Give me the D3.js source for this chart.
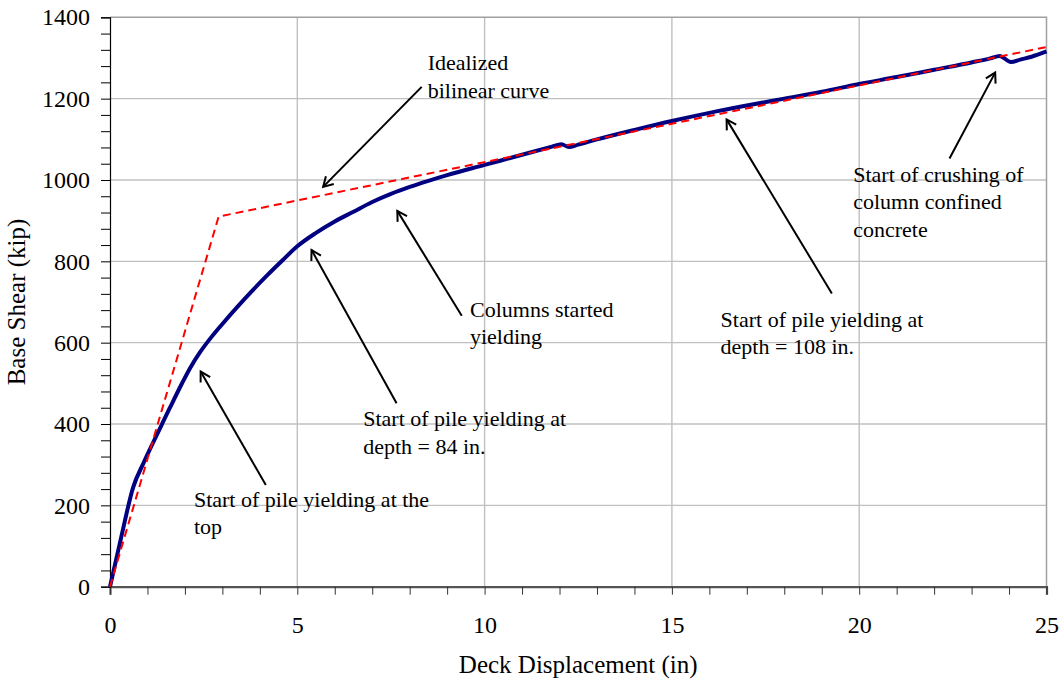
<!DOCTYPE html>
<html lang="en">
<head>
    <meta charset="UTF-8">
    <title>Pushover curve</title>
    <script src="https://d3js.org/d3.v7.min.js"></script>
    <style>
        body { margin: 0; background: #fff; }
        svg, svg text { font-family: "Liberation Serif", "Times New Roman", serif; }
        .axis-title { font-size: 25px; }
        .note { font-size: 22px; }
    </style>
</head>
<body>
<svg width="1063" height="681"></svg>
<script>
    // pushover curve (deck displacement in, base shear kip)
    const dispIn = [0, 0.3, 0.62, 0.9, 1.16, 1.4, 1.6, 1.9, 2.14, 2.4, 2.7, 3.0, 3.4, 3.8, 4.2, 4.6, 5.0,
        5.5, 6.0, 6.5, 7.0, 7.5, 8.0, 8.5, 9.0, 10, 11, 11.8, 12.05, 12.25, 12.5, 13, 14, 15, 16, 17, 18, 19, 20,
        21, 22, 23, 23.5, 23.75, 24.05, 24.3, 24.6, 25];
    const shearKip = [0, 122, 245, 305, 356, 402, 440, 496, 538, 576, 613, 646, 688, 728, 766, 802, 837,
        870, 898, 922, 946, 966, 983, 998, 1012, 1037, 1062, 1082, 1088, 1081, 1087, 1100, 1123, 1145, 1165, 1183, 1200, 1217, 1236,
        1253, 1271, 1289, 1299, 1305, 1290, 1296, 1303, 1316];

    // idealized bilinear curve
    const bilinDisp = [0, 2.9, 25];
    const bilinShear = [0, 910, 1327];

    const xTickVals = d3.range(0, 26, 1);
    const yTickVals = d3.range(0, 1401, 40);
    const xGrid = [5, 10, 15, 20];
    const yGrid = [200, 400, 600, 800, 1000, 1200];

    // annotations: text lines, text anchor point, arrow tail -> head (data units)
    const notes = [
        { lines: ["Idealized", "bilinear curve"], at: [8.48, 1270], from: [8.32, 1229], to: [5.69, 983] },
        { lines: ["Columns started", "yielding"], at: [9.61, 664], from: [9.39, 666], to: [7.67, 924] },
        { lines: ["Start of pile yielding at", "depth = 84 in."], at: [6.76, 395], from: [7.65, 451], to: [5.38, 828] },
        { lines: ["Start of pile yielding at the", "top"], at: [2.24, 197], from: [4.16, 250], to: [2.42, 529] },
        { lines: ["Start of pile yielding at", "depth = 108 in."], at: [16.3, 639], from: [19.27, 721], to: [16.46, 1149] },
        { lines: ["Start of crushing of", "column confined", "concrete"], at: [19.84, 996], from: [22.41, 1053], to: [23.63, 1264] }
    ];

    const margin = { top: 17.3, left: 110 },
          width = 936.5, height = 569.4;

    const svg = d3.select("svg");
    const g = svg.append("g").attr("transform", "translate(" + margin.left + "," + margin.top + ")");

    const x = d3.scaleLinear().domain([0, 25]).range([0, width]);
    const y = d3.scaleLinear().domain([0, 1400]).range([height, 0]);

    // grid
    g.selectAll(".vgrid").data(xGrid).enter().append("line")
        .attr("x1", d => x(d)).attr("x2", d => x(d))
        .attr("y1", 0).attr("y2", height)
        .attr("stroke", "#c0c0c0").attr("stroke-width", 1.4);
    g.selectAll(".hgrid").data(yGrid).enter().append("line")
        .attr("x1", 0).attr("x2", width)
        .attr("y1", d => y(d)).attr("y2", d => y(d))
        .attr("stroke", "#c0c0c0").attr("stroke-width", 1.4);
    // top and right frame
    g.append("path")
        .attr("d", "M0," + y(1400) + "H" + x(25) + "V" + y(0))
        .attr("fill", "none").attr("stroke", "#a0a0a0").attr("stroke-width", 1.5);

    // axes
    const xAxis = g.append("g")
        .attr("transform", "translate(0," + height + ")")
        .call(d3.axisBottom(x).tickValues(xTickVals).tickSize(8).tickPadding(21)
            .tickFormat(d => d % 5 === 0 ? d : ""));
    xAxis.select(".domain").attr("stroke", "#555").attr("stroke-width", 2.2);
    xAxis.selectAll(".tick line").attr("stroke", "#333");

    const yAxis = g.append("g")
        .call(d3.axisLeft(y).tickValues(yTickVals).tickSize(9).tickPadding(11)
            .tickFormat(d => d % 200 === 0 ? d : ""));
    yAxis.select(".domain").attr("stroke", "#000").attr("stroke-width", 1.2);
    yAxis.selectAll(".tick line").attr("stroke", "#000");
    [xAxis, yAxis].forEach(a => {
        a.attr("font-family", null).attr("font-size", null);
        a.selectAll(".tick text")
            .style("font-family", "'Liberation Serif', 'Times New Roman', serif")
            .style("font-size", "24px").style("fill", "#000");
    });

    // axis titles
    svg.append("text").attr("class", "axis-title")
        .attr("x", margin.left + width / 2).attr("y", 673)
        .attr("text-anchor", "middle")
        .text("Deck Displacement (in)");
    svg.append("text").attr("class", "axis-title")
        .attr("transform", "translate(25," + (margin.top + height / 2) + ") rotate(-90)")
        .attr("text-anchor", "middle")
        .text("Base Shear (kip)");

    // curves
    const curve = dispIn.map((d, i) => [d, shearKip[i]]);
    const bilin = bilinDisp.map((d, i) => [d, bilinShear[i]]);
    const line = d3.line().x(d => x(d[0])).y(d => y(d[1]));

    g.append("path").datum(curve)
        .attr("d", line.curve(d3.curveMonotoneX))
        .attr("fill", "none").attr("stroke", "#000080").attr("stroke-width", 4)
        .attr("stroke-linejoin", "round");
    g.append("path").datum(bilin)
        .attr("d", line.curve(d3.curveLinear))
        .attr("fill", "none").attr("stroke", "#ff0000").attr("stroke-width", 2)
        .attr("stroke-dasharray", "8,5");

    // annotations
    notes.forEach(n => {
        const t = g.append("text").attr("class", "note")
            .attr("x", x(n.at[0])).attr("y", y(n.at[1]));
        n.lines.forEach((s, i) => {
            t.append("tspan").attr("x", x(n.at[0])).attr("dy", i === 0 ? 0 : 27.5).text(s);
        });
        const x1 = x(n.from[0]), y1 = y(n.from[1]), x2 = x(n.to[0]), y2 = y(n.to[1]);
        const ang = Math.atan2(y2 - y1, x2 - x1), L = 11, a = Math.PI / 6;
        const p1 = [x2 - L * Math.cos(ang - a), y2 - L * Math.sin(ang - a)];
        const p2 = [x2 - L * Math.cos(ang + a), y2 - L * Math.sin(ang + a)];
        g.append("line").attr("x1", x1).attr("y1", y1).attr("x2", x2).attr("y2", y2)
            .attr("stroke", "#000").attr("stroke-width", 2);
        g.append("path")
            .attr("d", "M" + p1 + "L" + x2 + "," + y2 + "L" + p2)
            .attr("fill", "none").attr("stroke", "#000").attr("stroke-width", 2);
    });
</script>
</body>
</html>
